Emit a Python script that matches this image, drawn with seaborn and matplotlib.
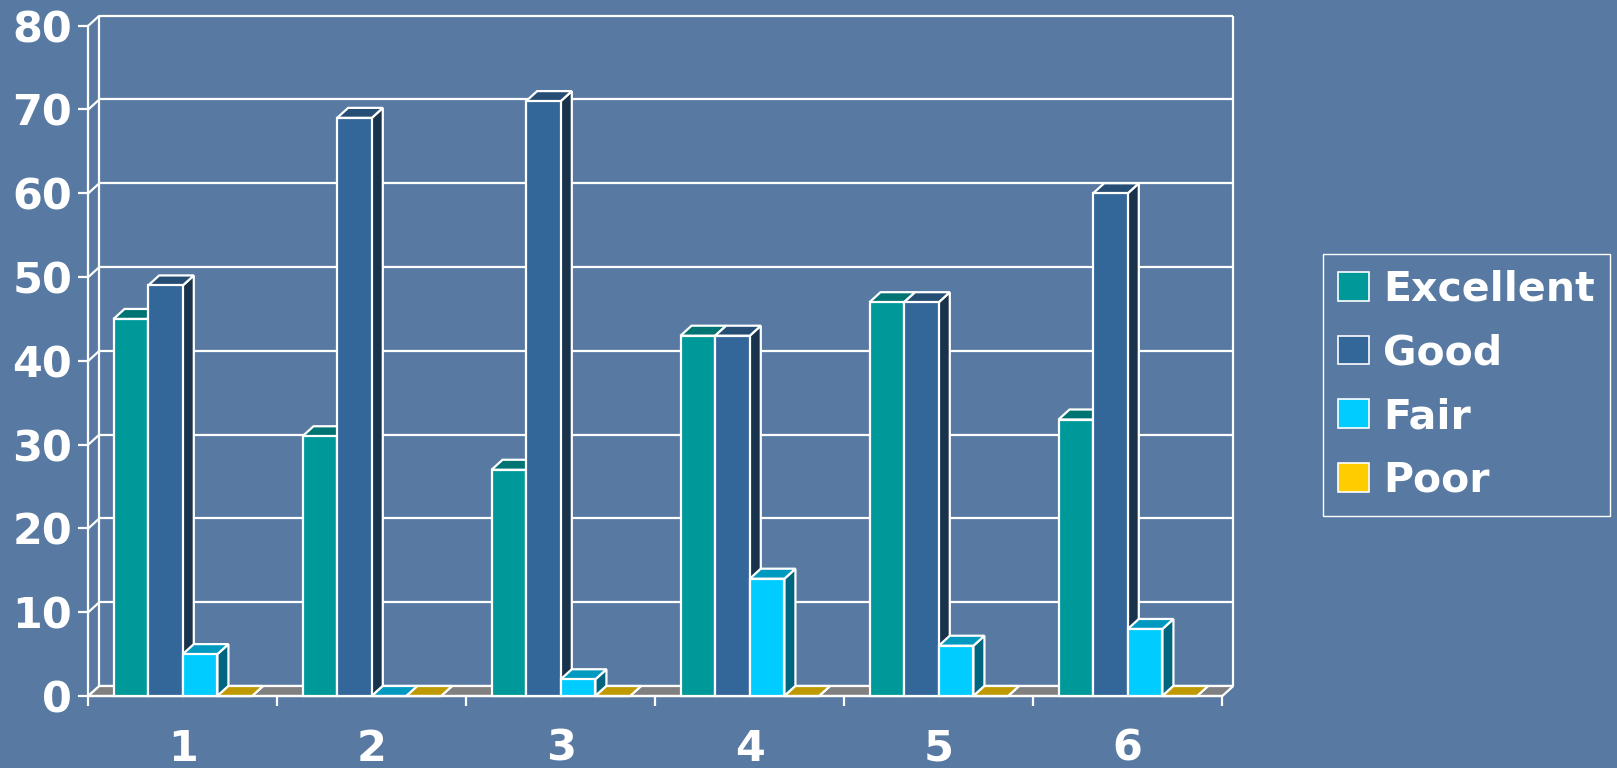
import matplotlib
matplotlib.use("Agg")
import matplotlib.pyplot as plt
from matplotlib.patches import Polygon, Patch
import numpy as np
import pandas as pd
import seaborn as sns

# ---- data -------------------------------------------------------------
groups = ["1", "2", "3", "4", "5", "6"]
ratings = ["Excellent", "Good", "Fair", "Poor"]
excellent = [45, 31, 27, 43, 47, 33]
good = [49, 69, 71, 43, 47, 60]
fair = [5, 0, 2, 14, 6, 8]
poor = [0, 0, 0, 0, 0, 0]
y_ticks = [0, 10, 20, 30, 40, 50, 60, 70, 80]

# ---- styling ----------------------------------------------------------
BG = "#587aa2"
front_colors = {"Excellent": "#009999", "Good": "#336699", "Fair": "#00ccff", "Poor": "#ffcc00"}
top_colors = {"Excellent": "#007373", "Good": "#264d73", "Fair": "#0099bf", "Poor": "#bf9900"}
side_colors = {"Excellent": "#006666", "Good": "#1a334d", "Fair": "#006680", "Poor": "#806600"}
FLOOR = "#808080"
LW = 1.6

plt.rcParams["font.family"] = ["DejaVu Sans"]
plt.rcParams["font.weight"] = "bold"

df = pd.DataFrame({
    "group": groups * 4,
    "rating": sum([[r] * len(groups) for r in ratings], []),
    "score": excellent + good + fair + poor,
})

W, H = 1617, 768
fig = plt.figure(figsize=(W / 100, H / 100), dpi=100)
fig.patch.set_facecolor(BG)

# front plane of the 3-D box (pixels)
x_left, x_right = 88.3, 1222.3
y_base, y_top = 696.0, 25.7
ax = fig.add_axes([x_left / W, (H - y_base) / H, (x_right - x_left) / W, (y_base - y_top) / H])
ax.set_facecolor("none")

sns.barplot(data=df, x="group", y="score", hue="rating", hue_order=ratings,
            order=groups, palette=front_colors, saturation=1, width=0.733, gap=0,
            edgecolor="white", linewidth=LW, errorbar=None, ax=ax, legend=False)

ax.set_xlim(-0.5, len(groups) - 0.5)
ax.set_ylim(0, 80)

# depth offset of the box, converted from pixels to data units
depth_px_x, depth_px_y = 11.0, 10.0
ddx = depth_px_x * len(groups) / (x_right - x_left)
ddy = depth_px_y * 80 / (y_base - y_top)
x0, x1 = -0.5, len(groups) - 0.5

line_kw = dict(color="white", lw=LW, clip_on=False, solid_capstyle="butt")

# back wall: gridlines and frame
for yv in y_ticks:
    ax.plot([x0 + ddx, x1 + ddx], [yv + ddy, yv + ddy], zorder=1, **line_kw)
    # left wall diagonals
    ax.plot([x0, x0 + ddx], [yv, yv + ddy], zorder=1, **line_kw)
ax.plot([x0 + ddx, x0 + ddx], [ddy, 80 + ddy], zorder=1, **line_kw)
ax.plot([x1 + ddx, x1 + ddx], [ddy, 80 + ddy], zorder=1, **line_kw)

# floor
floor = Polygon([(x0, 0), (x1, 0), (x1 + ddx, ddy), (x0 + ddx, ddy)], closed=True,
                facecolor=FLOOR, edgecolor="white", lw=LW, clip_on=False, zorder=1.5)
ax.add_patch(floor)

# extrude every bar: side face, top face, then front face on top
bars = []
for rating, cont in zip(ratings, ax.containers):
    for rect in cont:
        bars.append((rect.get_x(), rating, rect))
bars.sort(key=lambda b: b[0])
for i, (_, rating, rect) in enumerate(bars):
    bx0 = rect.get_x()
    bx1 = bx0 + rect.get_width()
    h = rect.get_height()
    z = 3 + i * 0.01
    side = Polygon([(bx1, 0), (bx1, h), (bx1 + ddx, h + ddy), (bx1 + ddx, ddy)], closed=True,
                   facecolor=side_colors[rating], edgecolor="white", lw=LW,
                   clip_on=False, zorder=z, joinstyle="miter")
    top = Polygon([(bx0, h), (bx1, h), (bx1 + ddx, h + ddy), (bx0 + ddx, h + ddy)], closed=True,
                  facecolor=top_colors[rating], edgecolor="white", lw=LW,
                  clip_on=False, zorder=z + 0.001, joinstyle="miter")
    ax.add_patch(side)
    ax.add_patch(top)
    rect.set_zorder(z + 0.005)
    rect.set_clip_on(False)
    rect.set_joinstyle("miter")

# axes, ticks and labels
for s in ["top", "right"]:
    ax.spines[s].set_visible(False)
for s in ["left", "bottom"]:
    ax.spines[s].set_color("white")
    ax.spines[s].set_linewidth(LW)
    ax.spines[s].set_zorder(2)
ax.grid(False)
ax.set_xlabel("")
ax.set_ylabel("")
ax.set_yticks(y_ticks)
ax.set_yticklabels([str(v) for v in y_ticks])
ax.tick_params(axis="y", colors="white", length=7.5, width=LW, pad=4,
               labelsize=31, labelcolor="white")
ax.set_xticks(range(len(groups)))
ax.set_xticklabels(groups)
ax.tick_params(axis="x", which="major", length=0, pad=23, labelsize=31, labelcolor="white")
ax.set_xticks(np.arange(len(groups) + 1) - 0.5, minor=True)
ax.tick_params(axis="x", which="minor", colors="white", length=7.5, width=LW)
for lab in ax.get_xticklabels() + ax.get_yticklabels():
    lab.set_fontweight("bold")

# legend
handles = [Patch(facecolor=front_colors[r], edgecolor="white", lw=1.2) for r in ratings]
leg = fig.legend(handles, ratings, loc="upper left",
                 bbox_to_anchor=(1322.7 / W, 1 - 254 / H), borderaxespad=0,
                 frameon=True, fancybox=False, framealpha=1,
                 prop={"size": 29.5, "weight": "bold"},
                 handlelength=0.76, handleheight=0.71, handletextpad=0.33,
                 labelspacing=0.58, borderpad=0.38)
leg.get_frame().set_facecolor("none")
leg.get_frame().set_edgecolor("white")
leg.get_frame().set_linewidth(1.0)
for t in leg.get_texts():
    t.set_color("white")

fig.savefig("out.png", dpi=100, facecolor=BG)
